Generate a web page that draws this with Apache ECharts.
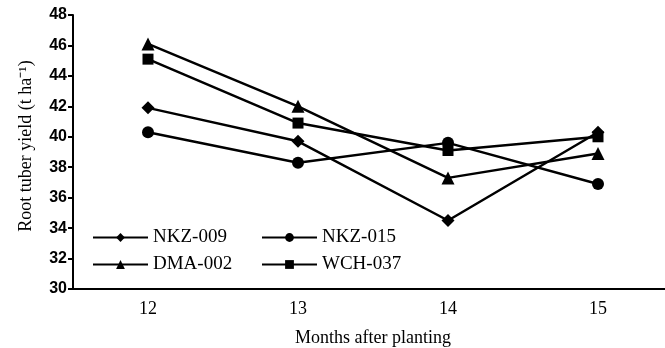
<!DOCTYPE html>
<html>
<head>
<meta charset="utf-8">
<script src="https://cdn.jsdelivr.net/npm/echarts@6/dist/echarts.min.js"></script>
<style>
  html, body { margin: 0; padding: 0; background: #fff; }
  #chart { width: 665px; height: 348px; }
</style>
</head>
<body>
<div id="chart"></div>
<script>
var months = ['12', '13', '14', '15']
var nkz009 = [41.9, 39.7, 34.5, 40.3]
var nkz015 = [40.3, 38.3, 39.6, 36.9]
var dma002 = [46.1, 42.0, 37.3, 38.9]
var wch037 = [45.1, 40.9, 39.1, 40.0]

var font = 'Liberation Serif'

function line(name, data, symbol, size) {
  return {
    name: name,
    type: 'line',
    data: data,
    symbol: symbol,
    symbolSize: size,
    lineStyle: { color: '#000', width: 2.5 },
    itemStyle: { color: '#000' },
    animation: false
  }
}

var legendText = { fontFamily: font, fontSize: 19, color: '#000' }

var chart = echarts.init(document.getElementById('chart'))
chart.setOption({
  animation: false,
  grid: { left: 73, width: 600, top: 15, bottom: 59, outerBoundsMode: 'none' },
  legend: [
    {
      data: ['NKZ-009', 'DMA-002'],
      orient: 'vertical',
      left: 87, top: 223,
      itemWidth: 55, itemHeight: 11, itemGap: 8,
      textStyle: legendText
    },
    {
      data: ['NKZ-015', 'WCH-037'],
      orient: 'vertical',
      left: 256, top: 223,
      itemWidth: 55, itemHeight: 11, itemGap: 8,
      textStyle: legendText
    }
  ],
  xAxis: {
    type: 'category',
    data: months,
    boundaryGap: true,
    name: 'Months after planting',
    nameLocation: 'middle',
    nameGap: 40,
    nameTextStyle: { fontFamily: font, fontSize: 18, color: '#000' },
    axisLine: { lineStyle: { color: '#000', width: 2 } },
    axisTick: { length: 5, lineStyle: { color: '#000', width: 2 } },
    axisLabel: { fontFamily: font, fontSize: 18, color: '#000', margin: 11 }
  },
  yAxis: {
    type: 'value',
    min: 30, max: 48, interval: 2,
    name: 'Root tuber yield (t ha\u207B\u00B9)',
    nameLocation: 'middle',
    nameGap: 38,
    nameTextStyle: { fontFamily: font, fontSize: 18, color: '#000', padding: [0, 0, 0, 12] },
    splitLine: { show: false },
    axisLine: { show: true, lineStyle: { color: '#000', width: 2 } },
    axisTick: { show: true, length: 5, lineStyle: { color: '#000', width: 2 } },
    axisLabel: { fontFamily: 'Liberation Sans', fontSize: 16, fontWeight: 'bold', color: '#000', margin: 6 }
  },
  series: [
    line('NKZ-009', nkz009, 'diamond', 13),
    line('NKZ-015', nkz015, 'circle', 12),
    line('DMA-002', dma002, 'triangle', 13),
    line('WCH-037', wch037, 'rect', 11)
  ]
})
</script>
</body>
</html>
